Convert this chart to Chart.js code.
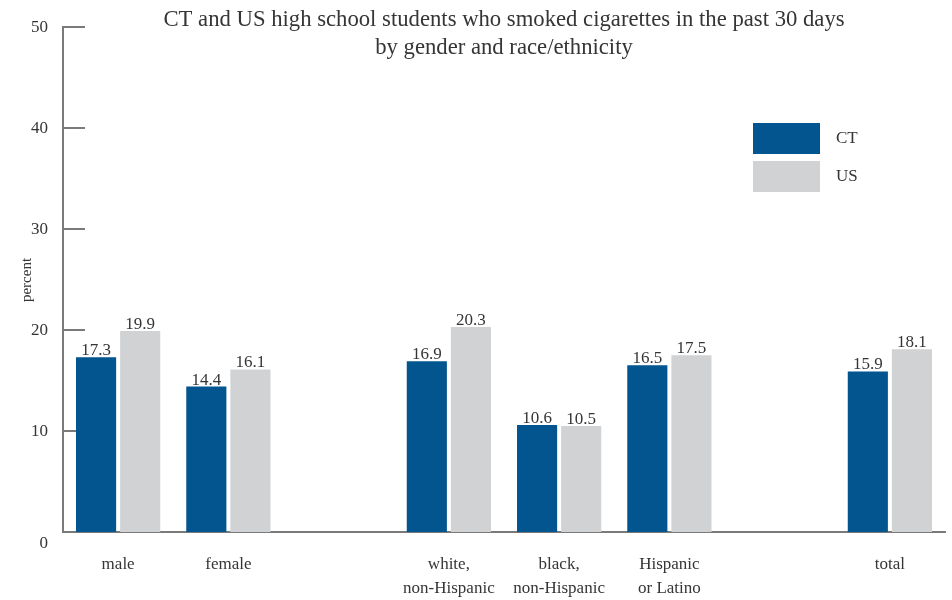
<!DOCTYPE html>
<html>
<head>
<meta charset="utf-8">
<script src="https://cdn.jsdelivr.net/npm/chart.js@4"></script>
<style>
html,body{margin:0;padding:0;background:#fff;}
#wrap{width:952px;height:600px;position:relative;}
</style>
</head>
<body>
<div id="wrap"><canvas id="c" width="952" height="600"></canvas></div>
<script>
const categories = ['male', 'female', '', ['white,', 'non-Hispanic'], ['black,', 'non-Hispanic'], ['Hispanic', 'or Latino'], '', 'total'];
const ctValues = [17.3, 14.4, null, 16.9, 10.6, 16.5, null, 15.9];
const usValues = [19.9, 16.1, null, 20.3, 10.5, 17.5, null, 18.1];
const yTicks = [0, 10, 20, 30, 40, 50];
const titleLines = ['CT and US high school students who smoked cigarettes in the past 30 days', 'by gender and race/ethnicity'];
const yTitle = 'percent';
const seriesNames = ['CT', 'US'];

const FONT = '"Liberation Serif", "DejaVu Serif", serif';
const TEXT = '#353535';
const AXIS = '#7a7a7a';
const BLUE = '#02558f';
const GREY = '#d1d2d4';

const decor = {
  id: 'decor',
  beforeDatasetsDraw(chart) {
    const ctx = chart.ctx, y = chart.scales.y, area = chart.chartArea;
    ctx.save();
    ctx.strokeStyle = AXIS;
    ctx.lineWidth = 2;
    yTicks.forEach(v => {
      const py = Math.round(y.getPixelForValue(v));
      ctx.beginPath();
      ctx.moveTo(area.left, py);
      ctx.lineTo(area.left + 22, py);
      ctx.stroke();
    });
    ctx.restore();
  },
  afterDatasetsDraw(chart) {
    const ctx = chart.ctx, y = chart.scales.y, area = chart.chartArea;
    ctx.save();
    // value labels
    ctx.font = '17px ' + FONT;
    ctx.fillStyle = TEXT;
    ctx.textAlign = 'center';
    ctx.textBaseline = 'bottom';
    chart.data.datasets.forEach((ds, di) => {
      const meta = chart.getDatasetMeta(di);
      meta.data.forEach((bar, i) => {
        const v = ds.data[i];
        if (v == null) return;
        ctx.fillText(v.toFixed(1), bar.x, bar.y + 2);
      });
    });
    // y tick labels
    ctx.textAlign = 'right';
    ctx.textBaseline = 'middle';
    yTicks.forEach(v => {
      let py = y.getPixelForValue(v);
      if (v === 0) py += 11;
      ctx.fillText(String(v), area.left - 15, py + 1);
    });
    // y title
    ctx.save();
    ctx.translate(27, 280);
    ctx.rotate(-Math.PI / 2);
    ctx.textAlign = 'center';
    ctx.textBaseline = 'middle';
    ctx.font = '15px ' + FONT;
    ctx.fillText(yTitle, 0, 0);
    ctx.restore();
    // title
    ctx.font = '22.7px ' + FONT;
    ctx.textAlign = 'center';
    ctx.textBaseline = 'middle';
    const cx = (area.left + area.right) / 2;
    ctx.fillText(titleLines[0], cx, 20);
    ctx.fillText(titleLines[1], cx, 48);
    // legend
    const colors = [BLUE, GREY];
    ctx.font = '17px ' + FONT;
    ctx.textAlign = 'left';
    seriesNames.forEach((name, i) => {
      const top = 123 + i * 38;
      ctx.fillStyle = colors[i];
      ctx.fillRect(753, top, 67, 31);
      ctx.fillStyle = TEXT;
      ctx.fillText(name, 836, top + 16);
    });
    ctx.restore();
  }
};

new Chart(document.getElementById('c'), {
  type: 'bar',
  data: {
    labels: categories,
    datasets: [
      { label: seriesNames[0], data: ctValues, backgroundColor: BLUE, borderWidth: 0 },
      { label: seriesNames[1], data: usValues, backgroundColor: GREY, borderWidth: 0 }
    ]
  },
  options: {
    responsive: false,
    animation: false,
    devicePixelRatio: 1,
    layout: { padding: { left: 63, right: 7, top: 27, bottom: 0 } },
    plugins: { legend: { display: false }, title: { display: false }, tooltip: { enabled: false } },
    datasets: { bar: { categoryPercentage: 0.8, barPercentage: 0.91 } },
    scales: {
      x: {
        grid: { display: false },
        border: { display: true, color: AXIS, width: 2 },
        ticks: { color: TEXT, font: { family: FONT, size: 17, lineHeight: 1.45 }, padding: 12, maxRotation: 0, autoSkip: false },
        afterFit(s) { s.height = 68; }
      },
      y: {
        min: 0, max: 50,
        grid: { display: false },
        border: { display: true, color: AXIS, width: 2 },
        ticks: { display: false, stepSize: 10 },
        afterFit(s) { s.width = 0; }
      }
    }
  },
  plugins: [decor]
});
</script>
</body>
</html>
